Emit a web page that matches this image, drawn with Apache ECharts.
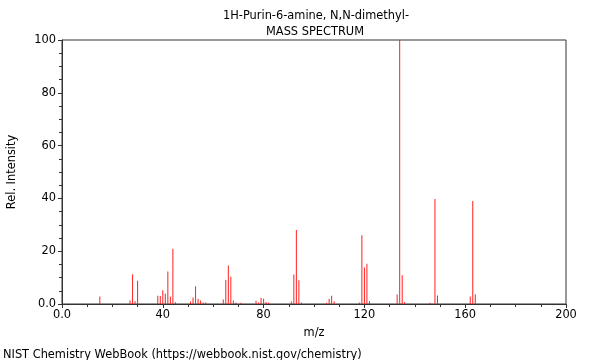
<!DOCTYPE html>
<html>
<head>
<meta charset="utf-8">
<script src="https://cdn.jsdelivr.net/npm/echarts@6/dist/echarts.min.js"></script>
<style>html,body{margin:0;padding:0;background:#fff}#c{width:600px;height:360px}</style>
</head>
<body>
<div id="c"></div>
<script>
const titleText = "1H-Purin-6-amine, N,N-dimethyl-";
const subtitleText = "MASS SPECTRUM";
const footerText = "NIST Chemistry WebBook (https://webbook.nist.gov/chemistry)";
const mz = [15, 27, 28, 29, 30, 38, 39, 40, 41, 42, 43, 44, 45,
  51, 52, 53, 54, 55, 56, 57, 64, 65, 66, 67, 68, 69, 71,
  77, 78, 79, 80, 81, 82, 91, 92, 93, 94, 95,
  105, 106, 107, 108, 118, 119, 120, 121, 122,
  133, 134, 135, 136, 146, 148, 149, 162, 163, 164];
const intensity = [2.8, 1.3, 11.3, 1.0, 8.8, 3.1, 3.0, 5.2, 3.9, 12.3, 2.7, 20.9, 0.7,
  0.9, 2.5, 6.7, 2.0, 1.3, 0.6, 0.6, 1.7, 9.1, 14.6, 10.3, 1.3, 0.6, 0.5,
  1.2, 0.6, 2.4, 2.0, 0.8, 0.6, 0.9, 11.2, 28.0, 9.0, 0.6,
  0.5, 2.0, 3.1, 1.0, 0.6, 26.0, 13.8, 15.2, 1.0,
  3.6, 100, 10.9, 0.8, 0.5, 39.8, 3.2, 2.8, 39.0, 3.7];
const xTicks = [0, 40, 80, 120, 160, 200];
const yTicks = [0, 20, 40, 60, 80, 100];

const font = 'DejaVu Sans';
const axisColor = '#333';
const tSize = 11.4;
const chart = echarts.init(document.getElementById('c'));
chart.setOption({
  animation: false,
  textStyle: { fontFamily: font },
  title: [
    { text: titleText, left: 316, top: 11, textAlign: 'center', padding: 0,
      textStyle: { fontSize: tSize, fontWeight: 'normal', color: '#000', fontFamily: font } },
    { text: subtitleText, left: 315, top: 27, textAlign: 'center', padding: 0,
      textStyle: { fontSize: tSize, fontWeight: 'normal', color: '#000', fontFamily: font } },
    { text: footerText, left: 3, top: 350, padding: 0,
      textStyle: { fontSize: tSize, fontWeight: 'normal', color: '#000', fontFamily: font } }
  ],
  grid: { left: 62, right: 34, top: 40, bottom: 56, show: true, borderColor: axisColor, borderWidth: 1,
    backgroundColor: 'transparent', containLabel: false, outerBoundsMode: 'none' },
  xAxis: {
    type: 'value', min: xTicks[0], max: xTicks[xTicks.length - 1], interval: 40,
    name: 'm/z', nameLocation: 'middle', nameGap: 24,
    nameTextStyle: { fontSize: tSize, color: '#000', fontFamily: font },
    axisLine: { lineStyle: { color: axisColor } },
    axisTick: { show: true, length: 4, lineStyle: { color: axisColor } },
    minorTick: { show: true, splitNumber: 4, length: 3, lineStyle: { color: axisColor } },
    splitLine: { show: false },
    axisLabel: { fontSize: tSize, color: '#000', margin: 6, formatter: v => v === 0 ? '0.0' : String(v) }
  },
  yAxis: {
    type: 'value', min: yTicks[0], max: yTicks[yTicks.length - 1], interval: 20,
    name: 'Rel. Intensity', nameLocation: 'middle', nameGap: 44, nameRotate: 90,
    nameTextStyle: { fontSize: tSize, color: '#000', fontFamily: font },
    axisLine: { show: true, lineStyle: { color: axisColor } },
    axisTick: { show: true, length: 4, lineStyle: { color: axisColor } },
    minorTick: { show: true, splitNumber: 4, length: 3, lineStyle: { color: axisColor } },
    splitLine: { show: false },
    axisLabel: { fontSize: tSize, color: '#000', margin: 6, formatter: v => v === 0 ? '0.0' : String(v) }
  },
  series: [{
    type: 'bar',
    barWidth: 1,
    itemStyle: { color: '#ff2020' },
    data: mz.map((m, i) => [m, intensity[i]])
  }]
});
</script>
</body>
</html>
